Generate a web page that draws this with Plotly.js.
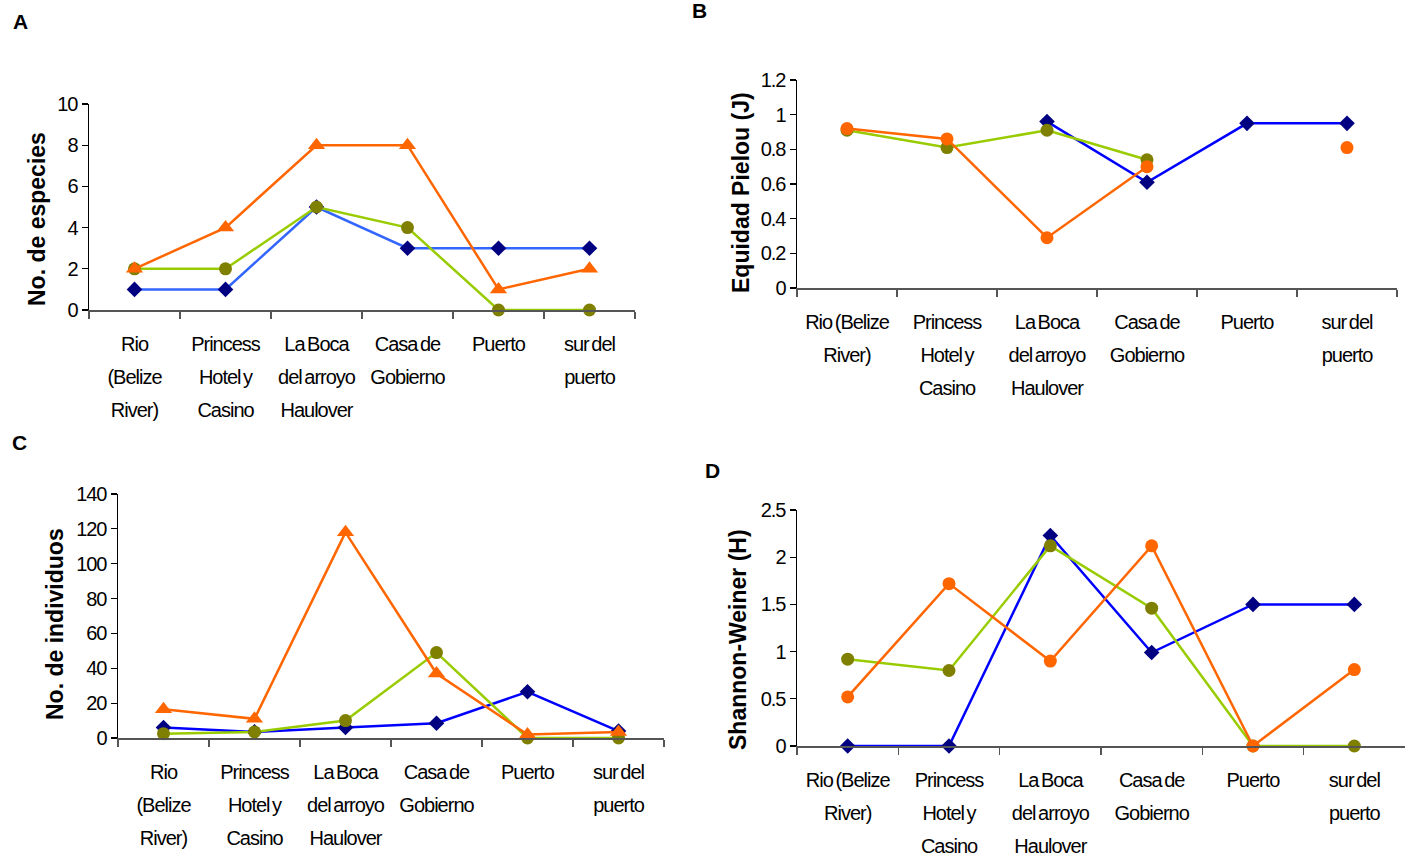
<!DOCTYPE html>
<html>
<head>
<meta charset="utf-8">
<script src="https://cdn.plot.ly/plotly-3.0.1.min.js"></script>
<style>
  body { margin: 0; padding: 0; background: #fff; }
  #chart { width: 1415px; height: 859px; }
  .xaxislayer-above text, .yaxislayer-above text { letter-spacing: -1px; word-spacing: -2px; }
</style>
</head>
<body>
<div id="chart"></div>
<script>
// ---- data ----
const categories = ['Rio (Belize River)', 'Princess Hotel y Casino', 'La Boca del arroyo Haulover', 'Casa de Gobierno', 'Puerto', 'sur del puerto'];
const tickLabelsAC = ['Rio<br>(Belize<br>River)', 'Princess<br>Hotel y<br>Casino', 'La Boca<br>del arroyo<br>Haulover', 'Casa de<br>Gobierno', 'Puerto', 'sur del<br>puerto'];
const tickLabelsBD = ['Rio (Belize<br>River)', 'Princess<br>Hotel y<br>Casino', 'La Boca<br>del arroyo<br>Haulover', 'Casa de<br>Gobierno', 'Puerto', 'sur del<br>puerto'];

// A: No. de especies
const especiesBlue   = [1, 1, 5, 3, 3, 3];
const especiesGreen  = [2, 2, 5, 4, 0, 0];
const especiesOrange = [2, 4, 8, 8, 1, 2];

// B: Equidad Pielou (J)
const pielouBlue   = [null, null, 0.96, 0.61, 0.95, 0.95];
const pielouGreen  = [0.91, 0.81, 0.91, 0.74, null, null];
const pielouOrange = [0.92, 0.86, 0.29, 0.70, null, 0.81];

// C: No. de individuos
const individuosBlue   = [6, 3.5, 6, 8.5, 26.5, 4];
const individuosGreen  = [2.5, 3.5, 10, 49, 0, 0];
const individuosOrange = [16.5, 11, 118, 37, 2, 3.5];

// D: Shannon-Weiner (H)
const shannonBlue   = [0, 0, 2.23, 0.99, 1.5, 1.5];
const shannonGreen  = [0.92, 0.80, 2.12, 1.46, 0, 0];
const shannonOrange = [0.52, 1.72, 0.90, 2.12, 0, 0.81];

// ---- styling ----
const ORANGE = '#FF6600', GREEN_LINE = '#99CC00', GREEN_MK = '#808000', NAVY = '#000080';
const tickFont = {family: 'Liberation Sans, Arial, sans-serif', size: 20, color: '#000'};

function series(y, xa, ya, lineColor, mkColor, symbol, size) {
  return {
    x: categories, y: y, xaxis: xa, yaxis: ya, type: 'scatter', mode: 'lines+markers',
    line: {color: lineColor, width: 2.5},
    marker: {color: mkColor, symbol: symbol, size: size},
    cliponaxis: false, connectgaps: false, showlegend: false, hoverinfo: 'y'
  };
}

const data = [
  series(especiesBlue, 'x', 'y', '#3366FF', NAVY, 'diamond', 12),
  series(especiesGreen, 'x', 'y', GREEN_LINE, GREEN_MK, 'circle', 13),
  series(especiesOrange, 'x', 'y', ORANGE, ORANGE, 'triangle-up', 15),

  series(pielouBlue, 'x2', 'y2', '#0000FF', NAVY, 'diamond', 12),
  series(pielouGreen, 'x2', 'y2', GREEN_LINE, GREEN_MK, 'circle', 13),
  series(pielouOrange, 'x2', 'y2', ORANGE, ORANGE, 'circle', 13),

  series(individuosBlue, 'x3', 'y3', '#0000FF', NAVY, 'diamond', 12),
  series(individuosGreen, 'x3', 'y3', GREEN_LINE, GREEN_MK, 'circle', 13),
  series(individuosOrange, 'x3', 'y3', ORANGE, ORANGE, 'triangle-up', 15),

  series(shannonBlue, 'x4', 'y4', '#0000FF', NAVY, 'diamond', 12),
  series(shannonGreen, 'x4', 'y4', GREEN_LINE, GREEN_MK, 'circle', 13),
  series(shannonOrange, 'x4', 'y4', ORANGE, ORANGE, 'circle', 13)
];

const W = 1415, H = 859;
function px(x) { return x / W; }
function py(y) { return 1 - y / H; }

function xax(x0, x1, anchor, labels) {
  return {
    domain: [px(x0), px(x1)], anchor: anchor, type: 'category',
    tickmode: 'array', tickvals: categories, ticktext: labels, tickangle: 0,
    tickson: 'boundaries', ticks: 'outside', ticklen: 7, tickcolor: '#555', tickwidth: 1.5,
    showline: true, linecolor: '#555', linewidth: 1.5,
    showgrid: false, zeroline: false, range: [-0.5, 5.5],
    tickfont: tickFont, ticklabelstandoff: 15, fixedrange: true
  };
}
function yax(top, bottom, anchor, range, dtick) {
  return {
    domain: [py(bottom), py(top)], anchor: anchor, range: range, dtick: dtick,
    ticks: 'outside', ticklen: 6, tickcolor: '#000', tickwidth: 1.2,
    showline: true, linecolor: '#000', linewidth: 1.5,
    showgrid: false, zeroline: false, tickfont: tickFont, fixedrange: true
  };
}

const titleFont = {family: 'Liberation Sans, Arial, sans-serif', size: 23, color: '#000', weight: 'bold'};
const letterFont = {family: 'Liberation Sans, Arial, sans-serif', size: 21, color: '#000', weight: 'bold'};
function ytitle(text, x, y) {
  return {text: text, x: px(x), y: py(y), xref: 'paper', yref: 'paper', showarrow: false,
          textangle: -90, xanchor: 'center', yanchor: 'middle', font: titleFont};
}
function letter(text, x, y) {
  return {text: text, x: px(x), y: py(y), xref: 'paper', yref: 'paper', showarrow: false,
          xanchor: 'center', yanchor: 'middle', font: letterFont};
}

const layout = {
  width: W, height: H, margin: {l: 0, r: 0, t: 0, b: 0},
  paper_bgcolor: '#fff', plot_bgcolor: 'rgba(0,0,0,0)',
  xaxis:  xax(89, 635, 'y', tickLabelsAC),
  yaxis:  yax(104, 310, 'x', [0, 10], 2),
  xaxis2: xax(797, 1397, 'y2', tickLabelsBD),
  yaxis2: yax(80, 288, 'x2', [0, 1.2], 0.2),
  xaxis3: xax(118, 664, 'y3', tickLabelsAC),
  yaxis3: yax(494, 738, 'x3', [0, 140], 20),
  xaxis4: xax(797, 1405, 'y4', tickLabelsBD),
  yaxis4: yax(510, 746, 'x4', [0, 2.5], 0.5),
  annotations: [
    ytitle('No. de especies', 37, 219),
    ytitle('Equidad Pielou (J)', 741, 193),
    ytitle('No. de individuos', 55, 624),
    ytitle('Shannon-Weiner (H)', 738, 640),
    letter('A', 20, 22),
    letter('B', 699, 10),
    letter('C', 19, 442),
    letter('D', 712, 470)
  ]
};

Plotly.newPlot('chart', data, layout, {displayModeBar: false, staticPlot: true}).then(function (gd) {
  gd.querySelectorAll('.xaxislayer-above text').forEach(function (t) {
    t.querySelectorAll('tspan.line').forEach(function (ts) {
      const dy = parseFloat(ts.getAttribute('dy'));
      if (dy) ts.setAttribute('dy', (dy * 1.65 / 1.3) + 'em');
    });
  });
});
</script>
</body>
</html>
